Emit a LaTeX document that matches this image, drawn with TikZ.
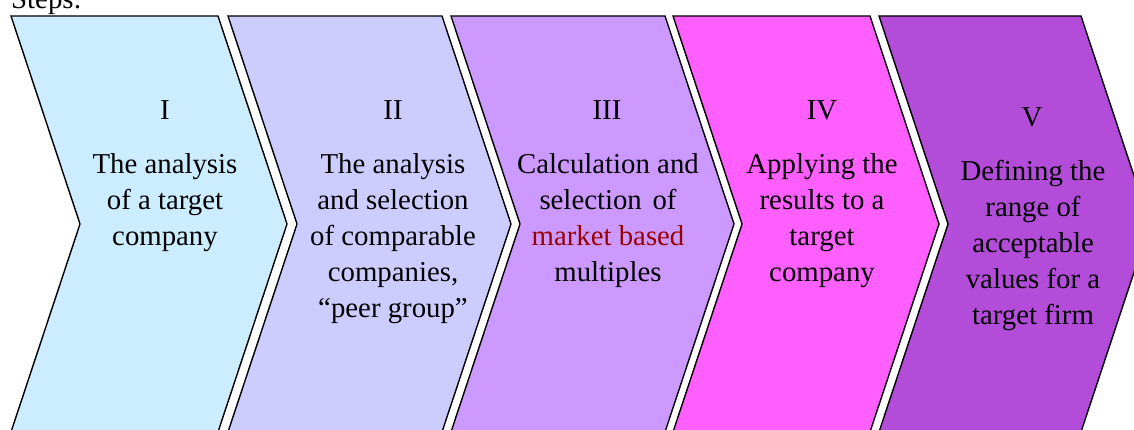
\documentclass[tikz,border=0pt]{standalone}
\usepackage{fontspec}
\setmainfont{Liberation Serif}
\definecolor{cA}{HTML}{CCECFF}
\definecolor{cB}{HTML}{CCCCFF}
\definecolor{cC}{HTML}{CC99FF}
\definecolor{cD}{HTML}{FF5FFF}
\definecolor{cE}{HTML}{B34DD9}
\definecolor{mred}{HTML}{990000}
\tikzset{
  chev/.style={draw=black, line width=1.4pt, line join=miter},
  txt/.style={anchor=base, align=center, inner sep=0pt, font=\fontsize{28.8}{36}\selectfont},
}
\newcommand{\chevron}[3]{% L, R, colour
  \filldraw[chev, fill=#3] (#1,414) -- (#2,414) -- ({#2+69},206) -- (#2,-2) -- (#1,-2) -- ({#1+69},206) -- cycle;}
\begin{document}
\begin{tikzpicture}[x=1pt,y=1pt]
\useasboundingbox (0,0) rectangle (1134,430);
\clip (0,0) rectangle (1134,430);
\node[anchor=base west, inner sep=0pt, font=\fontsize{28.8}{36}\selectfont] (steps) at (11,421) {Steps:};
\chevron{11}{218}{cA}
\chevron{228}{442}{cB}
\chevron{451}{665}{cC}
\chevron{673}{870}{cD}
\chevron{879}{1081}{cE}
% numerals
\node[txt] (n1) at (165,310) {I};
\node[txt] (n2) at (393,310) {II};
\node[txt] (n3) at (607,310) {III};
\node[txt] (n4) at (822,310) {IV};
\node[txt] (n5) at (1032,303) {V};
% texts (anchor = baseline of last line)
\node[txt] (t1) at (165,184) {The analysis\\of a target\\company};
\node[txt] (t2) at (393,112) {The analysis\\and selection\\of comparable\\companies,\\``peer group''};
\node[txt] (t3) at (608,148) {Calculation and\\\makebox[137pt][s]{selection of}\\\textcolor{mred}{market based}\\multiples};
\node[txt] (t4) at (822,148) {Applying the\\results to a\\target\\company};
\node[txt] (t5) at (1033,105) {Defining the\\range of\\acceptable\\values for a\\target firm};
\end{tikzpicture}
\end{document}
